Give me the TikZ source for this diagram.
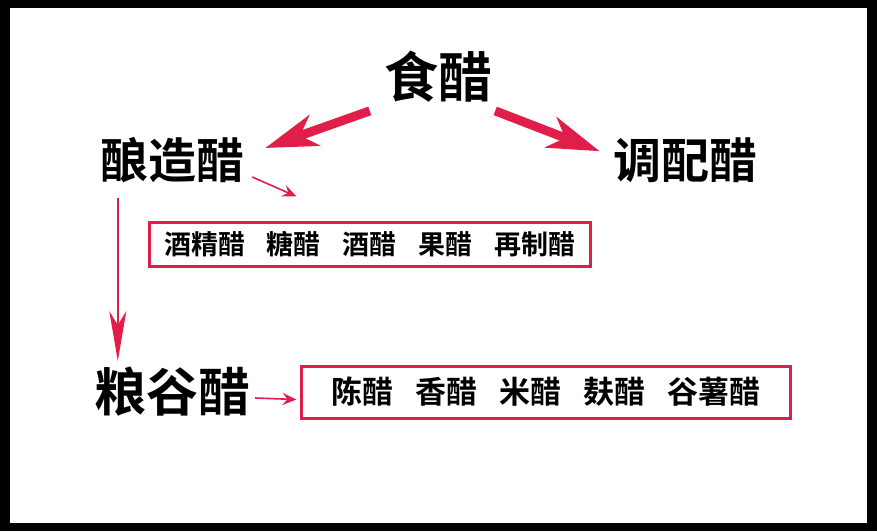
\documentclass[tikz,border=0pt]{standalone}
\usepackage{fontspec}
\newfontfamily\cjk{Noto Sans CJK SC}[BoldFont={Noto Sans CJK SC Bold}]
\usetikzlibrary{positioning,arrows.meta}
\definecolor{vinegarred}{HTML}{E11E4A}
\newcommand{\gap}{\hspace{22pt}}

\begin{document}
\begin{tikzpicture}[x=1pt,y=1pt,on grid,
    title/.style={inner sep=0pt,font=\cjk\bfseries\fontsize{48}{48}\selectfont},
    kind/.style={draw=vinegarred,line width=3pt,inner sep=0pt},
    big arrow/.style={vinegarred,line width=9pt,-{Stealth[length=52pt,width=32pt,inset=15pt]}},
    thin arrow/.style={vinegarred,line width=1.6pt,-{Stealth[length=14pt,width=12pt,inset=5pt]}},
    long arrow/.style={vinegarred,line width=2pt,-{Stealth[length=50pt,width=17pt,inset=14pt]}}]
    \fill[black] (0,0) rectangle (877,531);
    \fill[white] (10,8) rectangle (867,523);
    \node[title,font=\cjk\bfseries\fontsize{54}{54}\selectfont] (shi) at (438,454) {食醋};
    \node[title] (niang)   [below left=83pt and 266pt of shi]    {酿造醋};
    \node[title] (tiao)    [below right=83pt and 247pt of shi]   {调配醋};
    \node[kind,minimum width=441pt,minimum height=44pt,
          font=\cjk\bfseries\fontsize{27}{27}\selectfont]
          (fa)             [below right=84.5pt and 198pt of niang]
          {酒精醋\gap 糖醋\gap 酒醋\gap 果醋\gap 再制醋};
    \node[title,font=\cjk\bfseries\fontsize{52}{52}\selectfont]
          (liang)          [below=232pt of niang]                {粮谷醋};
    \node[kind,minimum width=489pt,minimum height=52pt,
          font=\cjk\bfseries\fontsize{31}{31}\selectfont]
          (gu)             [right=374pt of liang]
          {陈醋\gap 香醋\gap 米醋\gap 麸醋\gap 谷薯醋};
    % big arrows
    \draw[big arrow] ([shift={(-14,-8)}]shi.south west) -- ([shift={(21,-11)}]niang.north east);
    \draw[big arrow] ([shift={(3,-8)}]shi.south east) -- ([shift={(-13,-14)}]tiao.north west);
    % thin arrows
    \draw[thin arrow] ([shift={(8,6)}]niang.south east) -- ([shift={(148.5,24.5)}]fa.north west);
    \draw[long arrow] ([shift={(18,-15)}]niang.south west) -- ([shift={(24,6)}]liang.north west);
    \draw[thin arrow] ([shift={(5,-6)}]liang.east) -- ([shift={(-3.5,-7.5)}]gu.west);
\end{tikzpicture}
\end{document}
